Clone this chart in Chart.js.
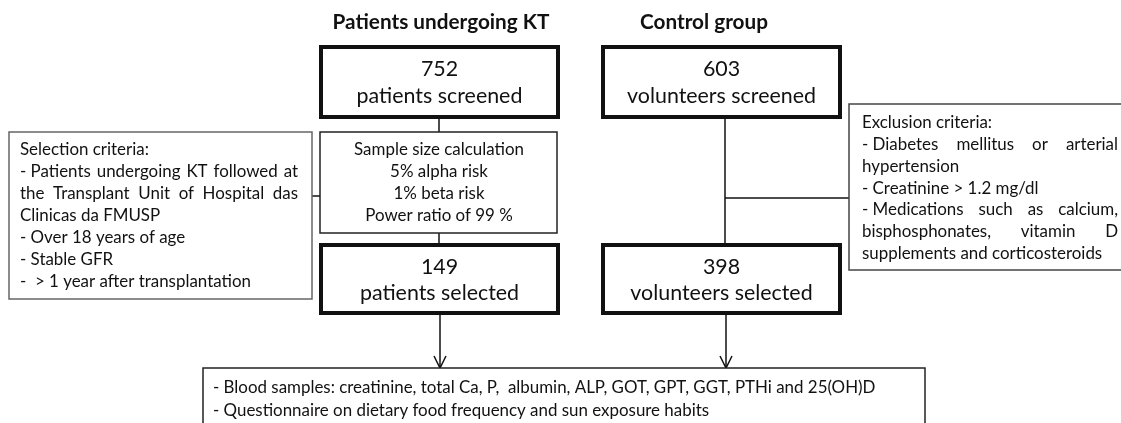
<!DOCTYPE html>
<html>
<head>
<meta charset="utf-8">
<script src="https://cdn.jsdelivr.net/npm/chart.js@4.4.1/dist/chart.umd.min.js"></script>
<style>
  html, body { margin: 0; padding: 0; background: #fff; }
  #wrap { width: 1121px; height: 423px; }
</style>
</head>
<body>
<div id="wrap"><canvas id="flowChart" width="1121" height="423"></canvas></div>
<script>
// flow chart data
const groups = ["Patients undergoing KT", "Control group"];
const screened = [752, 603];
const screenedLabels = ["patients screened", "volunteers screened"];
const selected = [149, 398];
const selectedLabels = ["patients selected", "volunteers selected"];
const sampleSize = ["Sample size calculation", "5% alpha risk", "1% beta risk", "Power ratio of 99 %"];
const selectionCriteria = [
  "Selection criteria:",
  "- Patients undergoing KT followed at",
  "the Transplant Unit of Hospital das",
  "Clinicas da FMUSP",
  "- Over 18 years of age",
  "- Stable GFR",
  "-  > 1 year after transplantation",
];
const exclusionCriteria = [
  "Exclusion criteria:",
  "- Diabetes mellitus or arterial",
  "hypertension",
  "- Creatinine > 1.2 mg/dl",
  "- Medications such as calcium,",
  "bisphosphonates, vitamin D",
  "supplements and corticosteroids",
];
const measurements = [
  "- Blood samples: creatinine, total Ca, P,  albumin, ALP, GOT, GPT, GGT, PTHi and 25(OH)D",
  "- Questionnaire on dietary food frequency and sun exposure habits",
];

// layout (chart units = pixels of the 1121x423 picture)
const FONT = "Lato, 'Open Sans', sans-serif";
const cols = [
  { x0: 321, x1: 558, line: 439, head: 441 },
  { x0: 603, x1: 840, line: 725, head: 704 },
];
const layout = {
  headerY: 22,
  screenBox: { y0: 47, y1: 117, numY: 69, labY: 96 },
  selectBox: { y0: 245, y1: 313, numY: 267, labY: 293 },
  sampleBox: { x0: 320, x1: 557, y0: 132, y1: 233, cx: 439, y: 150, dy: 21.7 },
  selBox: { x0: 9, x1: 312, y0: 132, y1: 299, tx: 20, tr: 298, y: 150, dy: 21.9, justify: [1, 2] },
  excBox: { x0: 849, x1: 1130, y0: 104, y1: 270, tx: 862, tr: 1118, y: 123, dy: 21.7, justify: [1, 4, 5] },
  bottomBox: { x0: 203, x1: 925, y0: 368, y1: 440, tx: 213, y: 388, dy: 23 },
};

const fitSize = (ctx, text, weight, width) => {
  ctx.font = `${weight} 100px ${FONT}`;
  return (100 * width) / ctx.measureText(text).width;
};

// spread the words over the width, keeping a leading "- " stuck to its word
const drawJustified = (ctx, text, x, y, width) => {
  let words = text.split(" ").filter((w) => w.length);
  if (words[0] === "-") words = ["- " + words[1], ...words.slice(2)];
  const total = words.reduce((s, w) => s + ctx.measureText(w).width, 0);
  const gap = (width - total) / (words.length - 1);
  let cx = x;
  words.forEach((w) => {
    ctx.fillText(w, cx, y);
    cx += ctx.measureText(w).width + gap;
  });
};

const flowPlugin = {
  id: "flow",
  afterDraw(chart) {
    const { ctx } = chart;
    const xs = chart.scales.x;
    const ys = chart.scales.y;
    const px = (v) => xs.getPixelForValue(v);
    const py = (v) => ys.getPixelForValue(v);

    const rect = (x0, y0, x1, y1, lw, color) => {
      ctx.save();
      ctx.lineWidth = lw;
      ctx.strokeStyle = color;
      ctx.fillStyle = "#fff";
      ctx.fillRect(px(x0), py(y0), px(x1) - px(x0), py(y1) - py(y0));
      ctx.strokeRect(px(x0), py(y0), px(x1) - px(x0), py(y1) - py(y0));
      ctx.restore();
    };
    const line = (x0, y0, x1, y1, lw) => {
      ctx.save();
      ctx.lineWidth = lw || 1.5;
      ctx.strokeStyle = "#111";
      ctx.beginPath();
      ctx.moveTo(px(x0), py(y0));
      ctx.lineTo(px(x1), py(y1));
      ctx.stroke();
      ctx.restore();
    };
    const arrow = (x, y0, y1) => {
      line(x, y0, x, y1);
      ctx.save();
      ctx.lineWidth = 1.5;
      ctx.strokeStyle = "#111";
      ctx.beginPath();
      ctx.moveTo(px(x) - 6, py(y1) - 12);
      ctx.lineTo(px(x), py(y1));
      ctx.lineTo(px(x) + 6, py(y1) - 12);
      ctx.stroke();
      ctx.restore();
    };

    const headSize = fitSize(ctx, groups[0], "bold", 217);
    const bigSize = fitSize(ctx, screenedLabels[1], "normal", 189);
    const smallSize = fitSize(ctx, sampleSize[0], "normal", 170);

    // connectors
    const L = layout;
    line(cols[0].line, L.screenBox.y1, cols[0].line, L.sampleBox.y0);
    line(cols[0].line, L.sampleBox.y1, cols[0].line, L.selectBox.y0);
    line(L.selBox.x1, 196, L.sampleBox.x0, 196);
    line(cols[1].line, L.screenBox.y1, cols[1].line, L.selectBox.y0);
    line(cols[1].line, 198, L.excBox.x0, 198);
    arrow(cols[0].line + 1, L.selectBox.y1, L.bottomBox.y0);
    arrow(cols[1].line + 1, L.selectBox.y1, L.bottomBox.y0);

    ctx.fillStyle = "#111";
    ctx.textBaseline = "middle";

    // group headers and count boxes
    groups.forEach((g, i) => {
      const c = cols[i];
      const cx = (c.x0 + c.x1) / 2;
      ctx.textAlign = "center";
      ctx.fillStyle = "#111";
      ctx.font = `bold ${headSize}px ${FONT}`;
      ctx.fillText(g, px(c.head), py(L.headerY));

      rect(c.x0, L.screenBox.y0, c.x1, L.screenBox.y1, 4, "#111");
      rect(c.x0, L.selectBox.y0, c.x1, L.selectBox.y1, 4, "#111");
      ctx.fillStyle = "#111";
      ctx.textAlign = "center";
      ctx.font = `${bigSize}px ${FONT}`;
      ctx.fillText(String(screened[i]), px(cx), py(L.screenBox.numY));
      ctx.fillText(screenedLabels[i], px(cx), py(L.screenBox.labY));
      ctx.fillText(String(selected[i]), px(cx), py(L.selectBox.numY));
      ctx.fillText(selectedLabels[i], px(cx), py(L.selectBox.labY));
    });

    // sample size box
    const sb = L.sampleBox;
    rect(sb.x0, sb.y0, sb.x1, sb.y1, 1.5, "#222");
    ctx.fillStyle = "#111";
    ctx.textAlign = "center";
    ctx.font = `${smallSize}px ${FONT}`;
    sampleSize.forEach((t, i) => ctx.fillText(t, px(sb.cx), py(sb.y + i * sb.dy)));

    // criteria boxes
    [[L.selBox, selectionCriteria, "#666"], [L.excBox, exclusionCriteria, "#444"]].forEach(([b, lines, col]) => {
      rect(b.x0, b.y0, b.x1, b.y1, 1.5, col);
      ctx.fillStyle = "#111";
      ctx.textAlign = "left";
      ctx.font = `${smallSize}px ${FONT}`;
      lines.forEach((t, i) => {
        const y = py(b.y + i * b.dy);
        if (b.justify.includes(i)) drawJustified(ctx, t, px(b.tx), y, px(b.tr) - px(b.tx));
        else ctx.fillText(t, px(b.tx), y);
      });
    });

    // measurements box
    const bb = L.bottomBox;
    rect(bb.x0, bb.y0, bb.x1, bb.y1, 1.5, "#222");
    ctx.fillStyle = "#111";
    ctx.textAlign = "left";
    ctx.font = `${smallSize}px ${FONT}`;
    measurements.forEach((t, i) => ctx.fillText(t, px(bb.tx), py(bb.y + i * bb.dy)));
  },
};

const ctx = document.getElementById("flowChart").getContext("2d");
new Chart(ctx, {
  type: "scatter",
  data: {
    datasets: [
      {
        label: "screened",
        data: screened.map((v, i) => ({ x: (cols[i].x0 + cols[i].x1) / 2, y: layout.screenBox.numY, v })),
        pointRadius: 0,
      },
      {
        label: "selected",
        data: selected.map((v, i) => ({ x: (cols[i].x0 + cols[i].x1) / 2, y: layout.selectBox.numY, v })),
        pointRadius: 0,
      },
    ],
  },
  options: {
    responsive: false,
    animation: false,
    devicePixelRatio: 1,
    layout: { padding: 0 },
    scales: {
      x: { type: "linear", min: 0, max: 1121, display: false },
      y: { type: "linear", min: 0, max: 423, reverse: true, display: false },
    },
    plugins: { legend: { display: false }, tooltip: { enabled: false } },
  },
  plugins: [flowPlugin],
});
</script>
</body>
</html>
